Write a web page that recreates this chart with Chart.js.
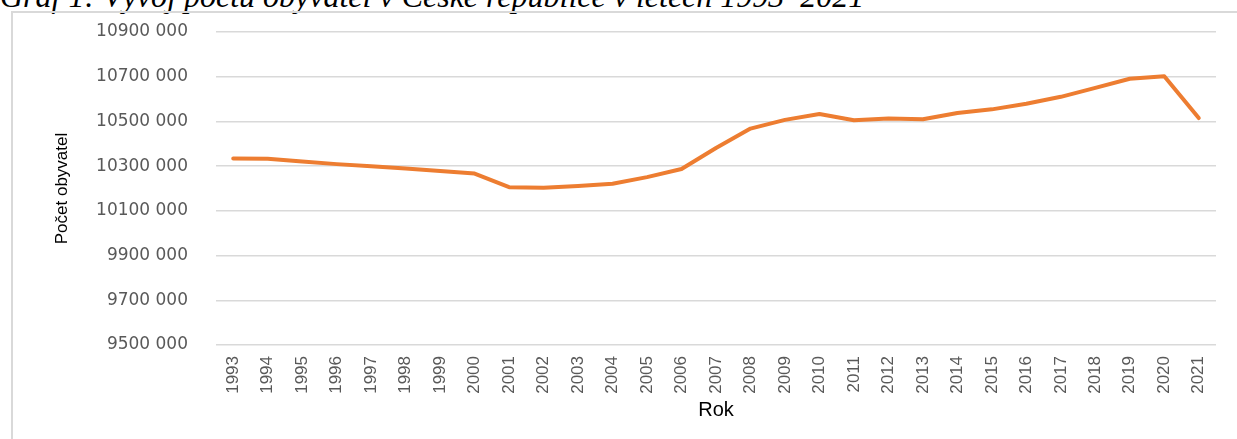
<!DOCTYPE html>
<html lang="cs">
<head>
<meta charset="UTF-8">
<title>Graf 1</title>
<script src="https://cdn.jsdelivr.net/npm/chart.js"></script>
<style>
  html, body { margin: 0; padding: 0; background: #fff; overflow: hidden; }
  #caption {
    position: absolute; left: 0; top: -20px;
    font-family: "Liberation Serif", "DejaVu Serif", serif;
    font-style: italic; font-size: 32px; line-height: 32px;
    color: #000; white-space: nowrap;
  }
  #frame {
    position: absolute; left: 11px; top: 11px; width: 1300px; height: 500px;
    border-left: 2px solid #d9d9d9; border-top: 2px solid #d9d9d9;
  }
  #wrap { position: absolute; left: 0; top: 0; width: 1237px; height: 439px; }
</style>
</head>
<body>
<div id="caption">Graf 1: Vývoj počtu obyvatel v České republice v letech 1993–2021</div>
<div id="frame"></div>
<div id="wrap"><canvas id="myChart" width="1237" height="439"></canvas></div>

<script>
// roky a pocet obyvatel
const years = ['1993','1994','1995','1996','1997','1998','1999','2000','2001','2002',
  '2003','2004','2005','2006','2007','2008','2009','2010','2011','2012','2013',
  '2014','2015','2016','2017','2018','2019','2020','2021'];
const population = [10334000, 10333000, 10321000, 10309000, 10299000, 10290000, 10278000,
  10267000, 10206000, 10203000, 10211000, 10221000, 10251000, 10287000, 10381000,
  10468000, 10507000, 10533000, 10505000, 10513000, 10510000, 10538000, 10554000,
  10579000, 10610000, 10650000, 10691000, 10702000, 10515000];
const yMin = 9500000;
const yMax = 10900000;
const yStep = 200000;

// "10900 000" format
function fmt(v) {
  return Math.floor(v / 1000) + ' 000';
}

const ctx = document.getElementById('myChart').getContext('2d');

new Chart(ctx, {
  type: 'line',
  data: {
    labels: years,
    datasets: [{
      label: 'Počet obyvatel',
      data: population,
      borderColor: '#ed7d31',
      borderWidth: 4,
      borderCapStyle: 'round',
      borderJoinStyle: 'round',
      pointRadius: 0,
      tension: 0,
      fill: false
    }]
  },
  options: {
    responsive: false,
    animation: false,
    layout: { padding: { top: 32, right: 21, left: 0, bottom: 0 } },
    plugins: { legend: { display: false }, tooltip: { enabled: false } },
    scales: {
      x: {
        offset: true,
        grid: { display: false, drawTicks: false },
        border: { display: false },
        ticks: {
          color: '#595959',
          font: { family: 'Liberation Sans', size: 17 },
          minRotation: 90, maxRotation: 90,
          padding: 11,
          autoSkip: false
        },
        title: {
          display: true, text: 'Rok', color: '#000',
          font: { family: 'Liberation Sans', size: 20 },
          padding: { top: 0, bottom: 17 }
        },
        afterFit: function(scale) { scale.height = 94; }
      },
      y: {
        min: yMin, max: yMax,
        grid: { color: '#d9d9d9', lineWidth: 1.5, drawTicks: false },
        border: { display: false },
        ticks: {
          stepSize: yStep,
          color: '#595959',
          font: { family: 'DejaVu Sans', size: 17 },
          padding: 28,
          callback: function(v) { return fmt(v); }
        },
        title: {
          display: true, text: 'Počet obyvatel', color: '#000',
          font: { family: 'Liberation Sans', size: 17 },
          padding: { top: 52, bottom: 0 }
        },
        afterFit: function(scale) {
          scale.width = 216;
          // tick padding would otherwise push the plot down
          scale.paddingTop = 0;
          scale.paddingBottom = 0;
        }
      }
    }
  }
});
</script>
</body>
</html>
